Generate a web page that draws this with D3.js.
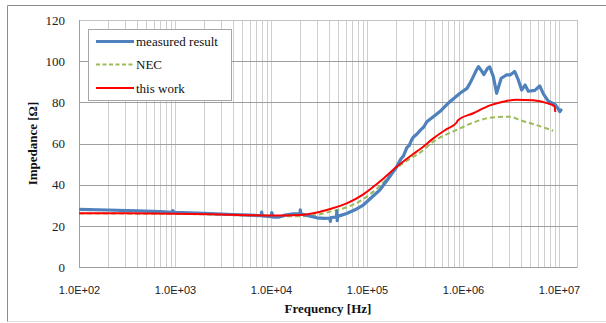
<!DOCTYPE html>
<html><head><meta charset="utf-8">
<script src="https://cdn.jsdelivr.net/npm/d3@7"></script>
<style>
html,body{margin:0;padding:0;background:#fff;}
svg{display:block;}
</style></head>
<body>
<svg id="chart" width="606" height="323"></svg>
<script>
// ---- data ----
const xTickValues = [1e2, 1e3, 1e4, 1e5, 1e6, 1e7];
const xTickLabels = ["1.0E+02", "1.0E+03", "1.0E+04", "1.0E+05", "1.0E+06", "1.0E+07"];
const yTickValues = [0, 20, 40, 60, 80, 100, 120];
const seriesNames = ["measured result", "NEC", "this work"];

const measuredFreq = [100, 200, 400, 700, 930, 950, 980, 2000, 4000, 6000, 7900, 8000, 8100, 10000, 10200, 10500, 12000, 14000, 17000, 20000, 20200, 20500, 25000, 30000, 36000, 41000, 41500, 42000, 48000, 48500, 49000, 49500, 61500, 75000, 91500, 110000, 136000, 170000, 204000, 225000, 240000, 260000, 275000, 290000, 303000, 330000, 360000, 390000, 420000, 490000, 575000, 650000, 730000, 930000, 1100000, 1180000, 1280000, 1380000, 1450000, 1550000, 1650000, 1800000, 1900000, 2070000, 2240000, 2500000, 2850000, 3100000, 3450000, 3770000, 4080000, 4430000, 4790000, 5600000, 6300000, 6900000, 7760000, 9100000, 9600000, 10200000, 10500000];
const measuredZ = [28.0, 27.7, 27.3, 26.9, 26.6, 27.4, 26.5, 26.1, 25.5, 25.2, 24.9, 26.7, 24.8, 24.4, 26.4, 24.2, 24.2, 25.2, 25.8, 26.0, 27.8, 25.8, 24.8, 23.9, 23.6, 23.8, 22.2, 24.0, 24.3, 27.2, 22.5, 24.6, 26.0, 27.8, 30.1, 33.5, 37.4, 43.5, 48.7, 52.5, 54.0, 58.0, 59.0, 61.5, 63.0, 64.5, 66.5, 68.0, 70.6, 73.0, 75.5, 78.0, 80.3, 84.4, 86.8, 89.2, 92.5, 95.7, 97.3, 95.5, 93.5, 96.5, 97.2, 92.5, 84.4, 91.7, 93.3, 93.3, 95.0, 90.9, 86.0, 88.4, 85.4, 85.8, 88.0, 84.0, 80.5, 79.0, 77.5, 75.5, 76.3];

const necFreq = [100, 1000, 10000, 20000, 30000, 41200, 61500, 91500, 136000, 204000, 303000, 356000, 490000, 860000, 1180000, 1760000, 2630000, 3100000, 3900000, 5800000, 8700000];
const necZ = [26.0, 25.8, 24.8, 24.6, 25.3, 26.9, 29.0, 33.0, 39.4, 48.0, 53.6, 55.5, 60.9, 66.6, 69.5, 72.2, 73.0, 73.0, 71.4, 69.0, 66.2];

const workFreq = [100, 300, 1000, 3000, 10000, 20000, 30000, 41200, 61500, 91500, 136000, 204000, 303000, 356000, 491000, 676000, 860000, 880000, 1280000, 1910000, 2610000, 3570000, 5360000, 7500000, 9000000, 9150000];
const workZ = [26.1, 26.1, 25.9, 25.5, 25.0, 25.3, 26.5, 28.2, 30.9, 35.3, 41.5, 48.7, 54.9, 57.2, 62.5, 67.0, 70.2, 71.2, 74.7, 78.5, 80.3, 81.3, 81.0, 79.6, 78.0, 75.3];

// ---- chart ----
const svg = d3.select("#chart");
const L = 79, R = 577, T = 20, B = 267;
const xMax = Math.pow(10, 2 + (R - L) / 96);
const x = d3.scaleLog().domain([100, xMax]).range([L, R]);
const y = d3.scaleLinear().domain([0, 120]).range([B, T]);

// outer frame
svg.append("line").attr("x1", 7.5).attr("x2", 7.5).attr("y1", 5.5).attr("y2", 322).attr("stroke", "#8c8c8c");
svg.append("line").attr("x1", 7.5).attr("x2", 606).attr("y1", 5.5).attr("y2", 5.5).attr("stroke", "#8c8c8c");
svg.append("line").attr("x1", 7.5).attr("x2", 606).attr("y1", 321.5).attr("y2", 321.5).attr("stroke", "#e2e2e2");

// vertical grid lines
const vGrid = [];
for (let d = 2; d <= 6; d++) for (let k = 1; k <= 9; k++) vGrid.push(k * Math.pow(10, d));
vGrid.push(1e7);
svg.append("g").selectAll("line").data(vGrid).join("line")
  .attr("x1", d => Math.round(x(d)) + 0.5).attr("x2", d => Math.round(x(d)) + 0.5)
  .attr("y1", T).attr("y2", B)
  .attr("stroke", "#cfcfcf").attr("stroke-width", 1);
// right border
svg.append("line").attr("x1", R + 0.5).attr("x2", R + 0.5).attr("y1", T).attr("y2", B).attr("stroke", "#c4c4c4");

// horizontal grid lines
svg.append("g").selectAll("line").data(yTickValues).join("line")
  .attr("x1", L).attr("x2", R + 0.5)
  .attr("y1", d => Math.round(y(d)) + 0.5).attr("y2", d => Math.round(y(d)) + 0.5)
  .attr("stroke", d => d === 120 ? "#c4c4c4" : "#9e9e9e").attr("stroke-width", 1);
// left axis line
svg.append("line").attr("x1", L + 0.5).attr("x2", L + 0.5).attr("y1", T).attr("y2", B + 0.5).attr("stroke", "#9e9e9e");

// y axis labels via d3 axis
const yAxis = d3.axisLeft(y).tickValues(yTickValues).tickSize(0).tickPadding(0).tickFormat(d3.format("d"));
const gy = svg.append("g").attr("transform", `translate(${L - 14},0)`).call(yAxis);
gy.select(".domain").remove();
gy.selectAll("text").attr("font-family", "'Liberation Serif', 'Times New Roman', serif")
  .attr("font-size", 13).attr("fill", "#222");

// x axis labels via d3 axis
const xAxis = d3.axisBottom(x).tickValues(xTickValues).tickSize(0).tickPadding(0)
  .tickFormat((d, i) => xTickLabels[i]);
const gx = svg.append("g").attr("transform", `translate(0,${B + 19})`).call(xAxis);
gx.select(".domain").remove();
gx.selectAll("text").attr("font-family", "'Liberation Sans', Arial, sans-serif")
  .attr("font-size", 11).attr("fill", "#222");

// axis titles
svg.append("text").attr("x", (L + R) / 2).attr("y", 313).attr("text-anchor", "middle")
  .attr("font-family", "'Liberation Serif', 'Times New Roman', serif").attr("font-weight", "bold")
  .attr("font-size", 13).attr("fill", "#111").text("Frequency [Hz]");
svg.append("text").attr("transform", `translate(37,${(T + B) / 2}) rotate(-90)`).attr("text-anchor", "middle")
  .attr("font-family", "'Liberation Serif', 'Times New Roman', serif").attr("font-weight", "bold")
  .attr("font-size", 13).attr("fill", "#111").text("Impedance [\u03A9]");

// series
svg.append("defs").append("clipPath").attr("id", "pc")
  .append("rect").attr("x", L).attr("y", T - 5).attr("width", R - L).attr("height", B - T + 5);

function pairs(f, z) { return f.map((v, i) => [v, z[i]]); }
const lineLin = d3.line().x(d => x(d[0])).y(d => y(d[1]));
const lineSmooth = d3.line().x(d => x(d[0])).y(d => y(d[1])).curve(d3.curveMonotoneX);

const gS = svg.append("g").attr("clip-path", "url(#pc)");
gS.append("path").datum(pairs(necFreq, necZ)).attr("d", lineSmooth)
  .attr("fill", "none").attr("stroke", "#9bbb59").attr("stroke-width", 2).attr("stroke-dasharray", "5,3");
gS.append("path").datum(pairs(measuredFreq, measuredZ)).attr("d", lineLin)
  .attr("fill", "none").attr("stroke", "#4f81bd").attr("stroke-width", 3.2)
  .attr("stroke-linejoin", "round").attr("stroke-linecap", "round");
gS.append("path").datum(pairs(workFreq, workZ)).attr("d", lineSmooth)
  .attr("fill", "none").attr("stroke", "#ff0000").attr("stroke-width", 2);

// legend
const lg = svg.append("g");
lg.append("rect").attr("x", 88.5).attr("y", 29.5).attr("width", 143).attr("height", 71)
  .attr("fill", "#fff").attr("stroke", "#a6a6a6");
const legStyles = [
  {c: "#4f81bd", w: 3.2, dash: null},
  {c: "#9bbb59", w: 2, dash: "4,2.5"},
  {c: "#ff0000", w: 2, dash: null}
];
const rowsY = [41.5, 64.5, 88];
seriesNames.forEach((name, i) => {
  lg.append("line").attr("x1", 96).attr("x2", 134).attr("y1", rowsY[i]).attr("y2", rowsY[i])
    .attr("stroke", legStyles[i].c).attr("stroke-width", legStyles[i].w)
    .attr("stroke-dasharray", legStyles[i].dash);
  lg.append("text").attr("x", 136).attr("y", rowsY[i] + 4.5)
    .attr("font-family", "'Liberation Serif', 'Times New Roman', serif")
    .attr("font-size", 13).attr("fill", "#111").text(name);
});
</script>
</body></html>
